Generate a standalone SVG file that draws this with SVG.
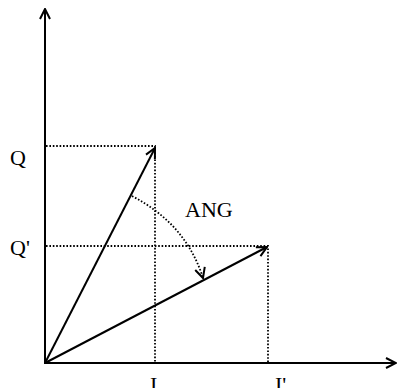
<svg xmlns="http://www.w3.org/2000/svg" width="398" height="388" viewBox="0 0 398 388">
<style>
.ax{stroke:#000;stroke-width:2;fill:none}
.dot{stroke:#000;stroke-width:1.8;stroke-dasharray:1.6 1.8;fill:none}
.lbl{font-family:"Liberation Serif",serif;font-size:22px;fill:#000}
</style>
<defs>
<marker id="ah" viewBox="0 0 12 12" refX="11" refY="6" markerWidth="12" markerHeight="12" markerUnits="userSpaceOnUse" orient="auto">
<path d="M1,1 L11,6 L1,11" fill="none" stroke="#000" stroke-width="2"/>
</marker>
</defs>
<rect width="398" height="388" fill="#fff"/>
<g id="guides">
<path class="dot" d="M46,146 H155 V362"/>
<path class="dot" d="M46,246 H268 V362"/>
</g>
<g id="connectors">
<line class="ax" x1="45" y1="364" x2="45" y2="9" marker-end="url(#ah)"/>
<line class="ax" x1="44" y1="363" x2="396" y2="363" marker-end="url(#ah)"/>
<line class="ax" x1="45" y1="363" x2="155" y2="148" marker-end="url(#ah)"/>
<line class="ax" x1="45" y1="363" x2="267" y2="247" marker-end="url(#ah)"/>
<path class="dot" d="M132,196 Q186,224 203,278" marker-end="url(#ah)"/>
</g>
<g id="labels">
<text class="lbl" x="10" y="165">Q</text>
<text class="lbl" x="10" y="255">Q'</text>
<text class="lbl" x="185" y="217">ANG</text>
<text class="lbl" x="150" y="392">I</text>
<text class="lbl" x="275" y="392">I'</text>
</g>
</svg>
